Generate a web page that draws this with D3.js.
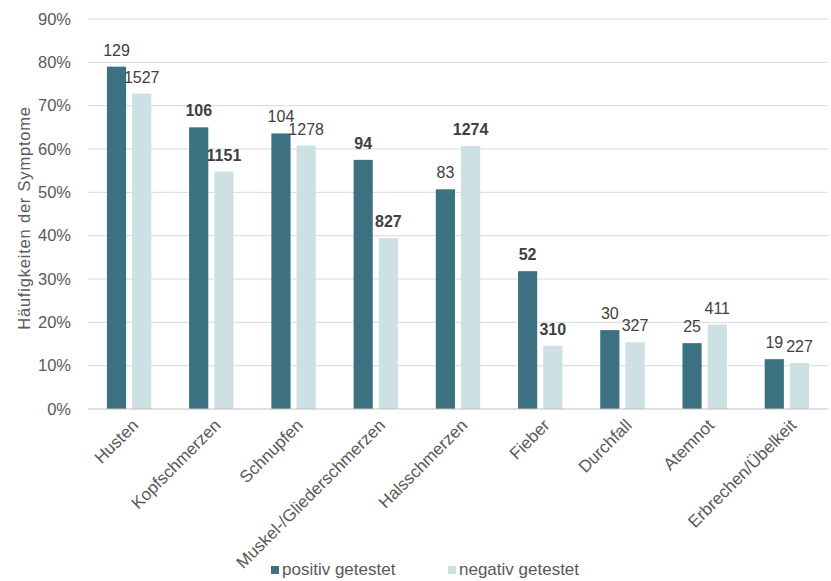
<!DOCTYPE html>
<html>
<head>
<meta charset="utf-8">
<script src="https://cdn.jsdelivr.net/npm/d3@7"></script>
<style>
    body { margin: 0; background: #fff; }
    text { font-family: "Liberation Sans", Arial, sans-serif; }
</style>
</head>
<body>
<script>
// data
const categories = ["Husten", "Kopfschmerzen", "Schnupfen", "Muskel-/Gliederschmerzen",
    "Halsschmerzen", "Fieber", "Durchfall", "Atemnot", "Erbrechen/Übelkeit"];
const seriesNames = ["positiv getestet", "negativ getestet"];
// share of persons with symptom
const positivShare = [0.79, 0.65, 0.636, 0.575, 0.507, 0.318, 0.182, 0.152, 0.115];
const negativShare = [0.728, 0.548, 0.608, 0.394, 0.607, 0.146, 0.154, 0.195, 0.106];
// absolute counts shown as labels
const positivCount = [129, 106, 104, 94, 83, 52, 30, 25, 19];
const negativCount = [1527, 1151, 1278, 827, 1274, 310, 327, 411, 227];
const positivBold = [false, true, false, true, false, true, false, false, false];
const negativBold = [false, true, false, true, true, true, false, false, false];
const yTicks = [0, 0.1, 0.2, 0.3, 0.4, 0.5, 0.6, 0.7, 0.8, 0.9];

const colors = ["#3c7181", "#cde0e3"];
const textColor = "#595959";

// dimensions
const width = 831;
const height = 581;
const plot = { left: 88, right: 828, top: 19, bottom: 409 };

let svg = d3.select("body")
    .append("svg")
    .attr("width", width)
    .attr("height", height);

let x0 = d3.scaleBand()
    .domain(categories)
    .range([plot.left, plot.right])
    .paddingInner(0.46)
    .paddingOuter(0.23);

let x1 = d3.scaleBand()
    .domain(seriesNames)
    .range([0, x0.bandwidth()])
    .paddingInner(0.24);

let y = d3.scaleLinear()
    .domain([0, 0.9])
    .range([plot.bottom, plot.top]);

// gridlines
svg.append("g")
    .selectAll("line")
    .data(yTicks.slice(1))
    .enter()
    .append("line")
    .attr("x1", plot.left)
    .attr("x2", plot.right)
    .attr("y1", d => y(d))
    .attr("y2", d => y(d))
    .attr("stroke", "#d9d9d9")
    .attr("stroke-width", 1);

// y axis labels
let yAxis = svg.append("g")
    .attr("transform", "translate(71,0)")
    .call(d3.axisLeft(y).tickValues(yTicks).tickFormat(d3.format(".0%")).tickSize(0).tickPadding(0));
yAxis.select(".domain").remove();
yAxis.selectAll("text")
    .attr("fill", textColor)
    .style("font-family", "'Liberation Sans', Arial, sans-serif")
    .style("font-size", "16.5px");

// y axis title
svg.append("text")
    .attr("transform", "translate(30,218) rotate(-90)")
    .attr("text-anchor", "middle")
    .attr("fill", textColor)
    .style("font-size", "16.5px")
    .style("letter-spacing", "0.8px")
    .text("Häufigkeiten der Symptome");

// build rows for the bars
let rows = categories.map((c, i) => ({
    cat: c,
    values: [
        { series: seriesNames[0], share: positivShare[i], count: positivCount[i], bold: positivBold[i] },
        { series: seriesNames[1], share: negativShare[i], count: negativCount[i], bold: negativBold[i] }
    ]
}));

let group = svg.append("g")
    .selectAll("g")
    .data(rows)
    .enter()
    .append("g")
    .attr("transform", d => "translate(" + x0(d.cat) + ",0)");

group.selectAll("rect")
    .data(d => d.values)
    .enter()
    .append("rect")
    .attr("x", d => x1(d.series))
    .attr("y", d => y(d.share))
    .attr("width", x1.bandwidth())
    .attr("height", d => plot.bottom - y(d.share))
    .attr("fill", (d, i) => colors[i]);

// data labels above the bars
group.selectAll("text")
    .data(d => d.values)
    .enter()
    .append("text")
    .attr("x", d => x1(d.series) + x1.bandwidth() / 2)
    .attr("y", d => y(d.share) - 11)
    .attr("text-anchor", "middle")
    .attr("fill", "#404040")
    .style("font-size", "16px")
    .style("font-weight", d => d.bold ? "bold" : "normal")
    .text(d => d.count);

// baseline
svg.append("line")
    .attr("x1", plot.left)
    .attr("x2", plot.right)
    .attr("y1", plot.bottom)
    .attr("y2", plot.bottom)
    .attr("stroke", "#bfbfbf")
    .attr("stroke-width", 1);

// category labels, rotated
svg.append("g")
    .selectAll("text")
    .data(categories)
    .enter()
    .append("text")
    .attr("transform", d => "translate(" + (x0(d) + x0.bandwidth() / 2 + 2) + "," + (plot.bottom + 9) + ") rotate(-45)")
    .attr("text-anchor", "end")
    .attr("dy", "0.7em")
    .attr("fill", textColor)
    .style("font-size", "17px")
    .text(d => d);

// legend
let legendX = [271, 448];
let legend = svg.append("g")
    .selectAll("g")
    .data(seriesNames)
    .enter()
    .append("g")
    .attr("transform", (d, i) => "translate(" + legendX[i] + ",566)");

legend.append("rect")
    .attr("width", 8)
    .attr("height", 8)
    .attr("fill", (d, i) => colors[i]);

legend.append("text")
    .attr("x", 11)
    .attr("y", 9)
    .attr("fill", textColor)
    .style("font-size", "17px")
    .text(d => d);
</script>
</body>
</html>
